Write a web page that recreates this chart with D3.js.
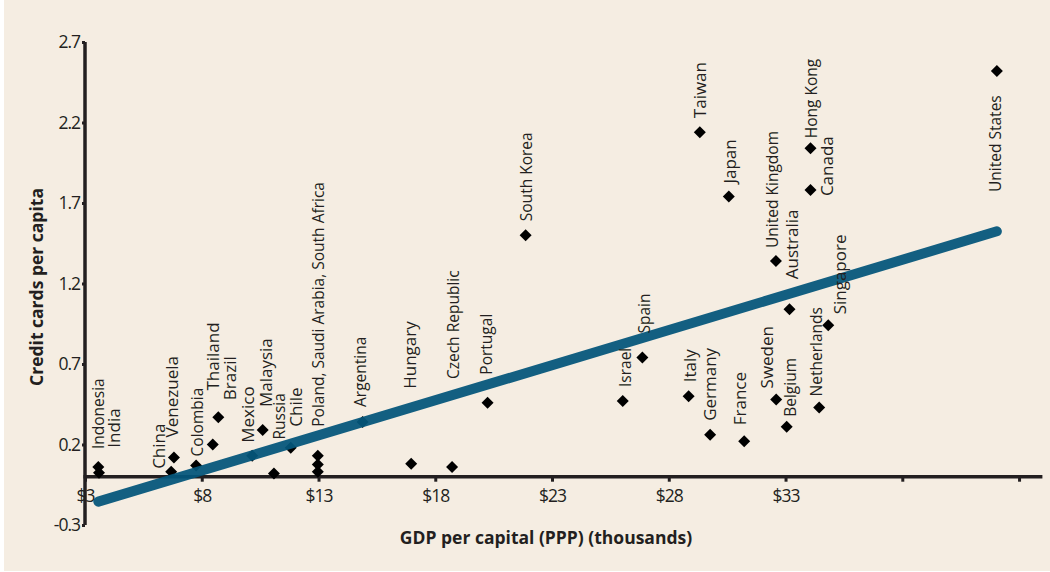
<!DOCTYPE html>
<html lang="en">
<head>
<meta charset="UTF-8">
<title>Credit cards vs GDP</title>
<style>
    body { margin:0; background:#fff; }
    svg { display:block; font-family:"Open Sans", sans-serif; }
</style>
</head>
<body>
<svg id="chart"></svg>
<script src="https://cdn.jsdelivr.net/npm/d3@7/dist/d3.min.js"></script>
<script>

var countries = ["Indonesia","India","China","Venezuela","Colombia","Thailand","Brazil","Mexico",
    "Malaysia","Russia","Chile","Poland","Saudi Arabia","South Africa","Argentina","Hungary",
    "Czech Republic","Portugal","South Korea","Israel","Spain","Italy","Taiwan","Germany","Japan",
    "France","United Kingdom","Sweden","Belgium","Australia","Hong Kong","Canada","Netherlands",
    "Singapore","United States"];
var gdp = [3.57,3.6,6.69,6.81,7.76,8.47,8.71,10.16,10.61,11.09,11.81,12.97,12.97,12.97,14.89,16.97,
    18.72,20.24,21.87,26.03,26.87,28.85,29.33,29.77,30.57,31.23,32.59,32.6,33.05,33.17,34.07,34.07,
    34.44,34.83,42.05];
var cards = [0.06,0.025,0.03,0.12,0.07,0.2,0.37,0.13,0.29,0.02,0.18,0.13,0.075,0.03,0.34,0.08,
    0.06,0.46,1.5,0.47,0.74,0.5,2.14,0.26,1.74,0.22,1.34,0.48,0.31,1.04,2.04,1.78,0.43,0.94,2.52];

// one label covers the three points at $13
var labels = countries.slice();
labels[11] = "Poland, Saudi Arabia, South Africa";
labels[12] = "";
labels[13] = "";

// trend line end points
var trendGdp = [3.57, 42.05];
var trendCards = [-0.155, 1.524];

var xTicks = [3,8,13,18,23,28,33,38,43];
var xTickLabels = ["$3","$8","$13","$18","$23","$28","$33","",""];
var yTicks = [-0.3,0.2,0.7,1.2,1.7,2.2,2.7];
var yTickLabels = ["-0.3","0.2","0.7","1.2","1.7","2.2","2.7"];

// label placement relative to each point (px) and size
var labelOff = [[0,-18],[15,-25],[-12,-3],[-2,-20],[1,-9],[0,-54],[12,-17],[-4,-13],
    [3,-23],[5,-34],[5,-21],[1,-29],[0,0],[0,0],[-2,-15],[-1,-75],
    [1,-88],[-1,-28],[1,-14],[3,-14],[2,-24],[1,-14],[0,-14],[0,-14],[1,-13],
    [-4,-16],[-4,-13],[-9,-11],[4,-10],[2,-30],[1,-10],[16,6],[-3,-11],
    [12,-11],[-1,121]];
var bigLabels = ["India","China","Venezuela","Thailand","Brazil","Mexico","Malaysia","Chile",
    "Hungary","Italy","Taiwan","Germany","Japan","France","Sweden","Australia","Canada","Singapore"];

var svgWidth = 1050, svgHeight = 572;
var ink = "#231f20";

var svg = d3.select("#chart")
    .attr("width", svgWidth)
    .attr("height", svgHeight);

svg.append("rect")
    .attr("x", 4).attr("y", 0)
    .attr("width", svgWidth - 4).attr("height", 571)
    .attr("fill", "#f5ede2");

var xScale = d3.scaleLinear().domain([3, 44]).range([85, 1042.4]);
var yScale = d3.scaleLinear().domain([-0.3, 2.7]).range([525, 42]);
var y0 = yScale(0);

// x axis
var xAxis = d3.axisBottom(xScale)
    .tickValues(xTicks)
    .tickFormat(function(d, i) { return xTickLabels[i]; })
    .tickSize(5)
    .tickPadding(8);

var gx = svg.append("g")
    .attr("transform", "translate(0," + y0 + ")")
    .call(xAxis);
gx.select(".domain").remove();
gx.selectAll(".tick line").attr("stroke", ink).attr("stroke-width", 3);
gx.selectAll(".tick text")
    .attr("fill", ink)
    .style("font-family", "'Open Sans', sans-serif")
    .style("font-size", "17.5px")
    .attr("letter-spacing", "-1");

// y axis
var yAxis = d3.axisLeft(yScale)
    .tickValues(yTicks)
    .tickFormat(function(d, i) { return yTickLabels[i]; })
    .tickSize(3)
    .tickPadding(2);

var gy = svg.append("g")
    .attr("transform", "translate(85,0)")
    .call(yAxis);
gy.select(".domain").remove();
gy.selectAll(".tick line").attr("stroke", ink).attr("stroke-width", 3);
gy.selectAll(".tick text")
    .attr("fill", ink)
    .style("font-family", "'Open Sans', sans-serif")
    .style("font-size", "17.5px")
    .attr("letter-spacing", "-1");

// axis lines on top of the tick labels
svg.append("line")
    .attr("x1", xScale(3) - 1.5).attr("x2", xScale(44))
    .attr("y1", y0).attr("y2", y0)
    .attr("stroke", ink).attr("stroke-width", 3.5);
svg.append("line")
    .attr("x1", 85).attr("x2", 85)
    .attr("y1", yScale(2.7)).attr("y2", yScale(-0.3))
    .attr("stroke", ink).attr("stroke-width", 3.5);

// points
var idx = d3.range(countries.length);
var diamond = d3.symbol().type(d3.symbolSquare).size(72);

svg.selectAll("path.pt")
    .data(idx)
    .enter()
    .append("path")
    .attr("class", "pt")
    .attr("d", diamond)
    .attr("fill", "#000")
    .attr("transform", function(i) {
        return "translate(" + xScale(gdp[i]) + "," + yScale(cards[i]) + ") rotate(45)";
    });

// trend line
svg.append("line")
    .attr("x1", xScale(trendGdp[0])).attr("y1", yScale(trendCards[0]))
    .attr("x2", xScale(trendGdp[1])).attr("y2", yScale(trendCards[1]))
    .attr("stroke", "#04567a")
    .attr("stroke-opacity", 0.94)
    .attr("stroke-width", 10)
    .attr("stroke-linecap", "round");

// country labels
svg.selectAll("text.lbl")
    .data(idx.filter(function(i) { return labels[i] !== ""; }))
    .enter()
    .append("text")
    .attr("class", "lbl")
    .attr("transform", function(i) {
        var x = xScale(gdp[i]) + labelOff[i][0];
        var y = yScale(cards[i]) + labelOff[i][1];
        return "translate(" + x + "," + y + ") rotate(-90)";
    })
    .attr("dy", "0.36em")
    .attr("fill", ink)
    .style("font-size", function(i) {
        return bigLabels.indexOf(countries[i]) >= 0 ? "17px" : "15.5px";
    })
    .text(function(i) { return labels[i]; });

// axis titles
svg.append("text")
    .attr("transform", "translate(37,287) rotate(-90)")
    .attr("text-anchor", "middle")
    .attr("dy", "0.35em")
    .attr("fill", ink)
    .style("font-size", "17.5px")
    .style("font-weight", "bold")
    .text("Credit cards per capita");

svg.append("text")
    .attr("x", 546).attr("y", 544)
    .attr("text-anchor", "middle")
    .attr("fill", ink)
    .style("font-size", "17.5px")
    .style("font-weight", "bold")
    .text("GDP per capital (PPP) (thousands)");

</script>
</body>
</html>
